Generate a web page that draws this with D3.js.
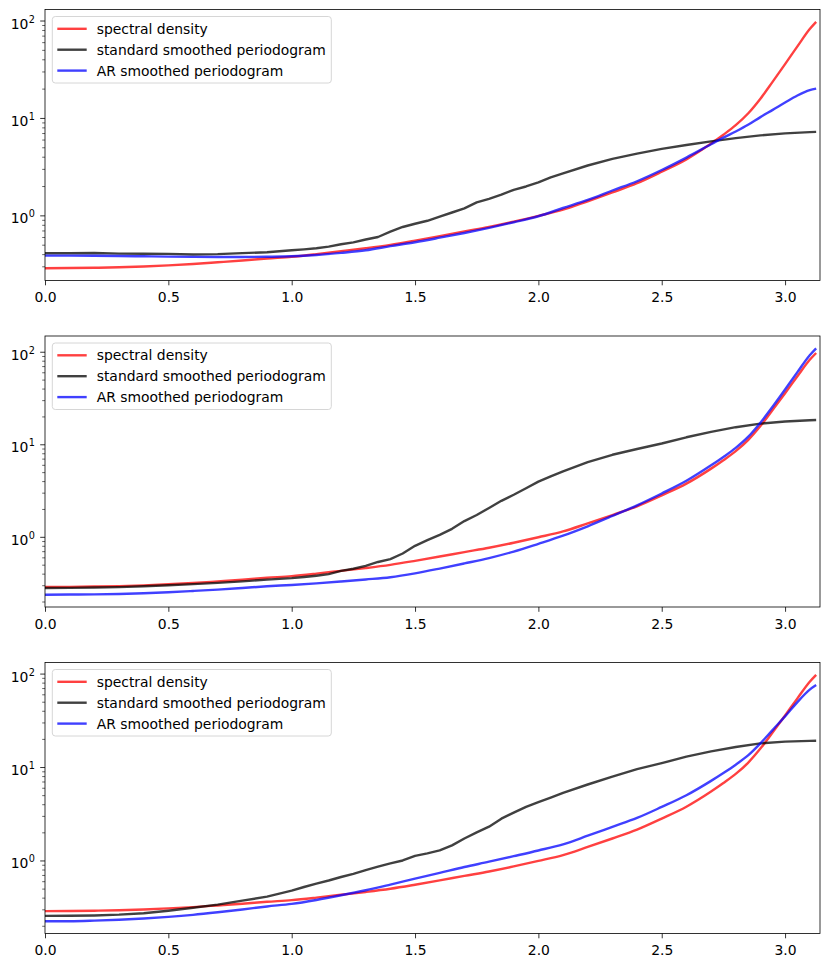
<!DOCTYPE html>
<html><head><meta charset="utf-8">
<script src="https://cdn.jsdelivr.net/npm/d3@7"></script>
<style>body{margin:0;background:#fff} svg{display:block}</style>
</head><body>
<svg id="chart" width="830" height="967"></svg>
<script>
// ---------- data ----------
const freqSmooth = [0,0.1,0.2,0.3,0.4,0.5,0.6,0.7,0.8,0.9,1.0,1.1,1.2,1.3,1.4,1.5,1.6,1.7,1.8,1.9,2.0,2.1,2.2,2.3,2.4,2.5,2.6,2.7,2.75,2.8,2.85,2.9,2.95,3.0,3.05,3.1,3.126];
const freqPgram = [0,0.1,0.2,0.3,0.4,0.5,0.6,0.7,0.8,0.9,1.0,1.05,1.1,1.15,1.2,1.25,1.3,1.35,1.4,1.45,1.5,1.55,1.6,1.65,1.7,1.75,1.8,1.85,1.9,1.95,2.0,2.05,2.1,2.2,2.3,2.4,2.5,2.6,2.7,2.8,2.9,3.0,3.1,3.126];

const spectralDensity = [0.287,0.288,0.290,0.293,0.299,0.307,0.317,0.330,0.344,0.361,0.376,0.400,0.429,0.460,0.498,0.550,0.612,0.684,0.762,0.863,0.989,1.143,1.396,1.718,2.138,2.805,3.758,5.457,6.73,8.433,11.1,15.74,23.6,35.65,54.3,81.8,97.0];

const arPgram1 = [0.386,0.386,0.385,0.383,0.380,0.377,0.375,0.374,0.374,0.376,0.380,0.392,0.412,0.438,0.483,0.53,0.59,0.66,0.745,0.85,0.98,1.19,1.44,1.80,2.24,2.92,3.92,5.37,6.28,7.26,8.5,10.2,12.1,14.4,17.0,19.3,20.0];
const arPgram2 = [0.237,0.238,0.239,0.2415,0.246,0.252,0.260,0.269,0.280,0.292,0.302,0.314,0.329,0.346,0.366,0.403,0.454,0.516,0.589,0.693,0.841,1.03,1.30,1.68,2.19,2.94,4.03,5.92,7.29,9.14,12.0,17.1,25.6,39.1,60.3,91.8,108.9];
const arPgram3 = [0.224,0.224,0.227,0.232,0.239,0.249,0.262,0.279,0.299,0.322,0.343,0.378,0.424,0.480,0.552,0.638,0.736,0.851,0.970,1.112,1.279,1.489,1.84,2.29,2.85,3.74,4.99,7.11,8.63,10.6,13.3,17.9,25.0,34.8,49.5,67.3,75.3];

const stdPgram1 = [0.408,0.408,0.411,0.405,0.403,0.402,0.396,0.400,0.410,0.418,0.438,0.448,0.460,0.478,0.505,0.528,0.565,0.60,0.68,0.76,0.82,0.88,0.97,1.07,1.18,1.36,1.48,1.63,1.83,1.98,2.18,2.45,2.70,3.25,3.8,4.3,4.82,5.27,5.75,6.2,6.62,6.95,7.15,7.19];
const stdPgram2 = [0.280,0.281,0.283,0.286,0.292,0.300,0.308,0.318,0.330,0.345,0.358,0.368,0.380,0.395,0.428,0.452,0.485,0.535,0.575,0.66,0.80,0.92,1.05,1.22,1.48,1.72,2.05,2.45,2.85,3.35,3.95,4.5,5.1,6.4,7.7,8.9,10.2,11.9,13.6,15.3,16.7,17.6,18.2,18.3];
const stdPgram3 = [0.255,0.256,0.258,0.263,0.272,0.290,0.312,0.337,0.372,0.410,0.475,0.52,0.565,0.61,0.665,0.72,0.79,0.86,0.93,1.0,1.12,1.19,1.28,1.45,1.72,2.0,2.3,2.8,3.25,3.75,4.2,4.7,5.3,6.5,7.9,9.5,11.0,12.9,14.7,16.4,17.9,18.7,19.05,19.1];

const xTicks = [0,0.5,1.0,1.5,2.0,2.5,3.0];
const seriesNames = ["spectral density","standard smoothed periodogram","AR smoothed periodogram"];
const seriesColors = ["rgba(255,0,0,0.75)","rgba(0,0,0,0.75)","rgba(0,0,255,0.75)"];

// ---------- layout ----------
const svg = d3.select("#chart");
const left = 45, right = 820, h = 271;
const tops = [9.5, 336, 662.5];
const font = "DejaVu Sans, sans-serif";
const fs = 13.9;

const panels = [
  {std: stdPgram1, ar: arPgram1},
  {std: stdPgram2, ar: arPgram2},
  {std: stdPgram3, ar: arPgram3}
];

const x = d3.scaleLinear().domain([0, Math.PI]).range([left, right]);

panels.forEach((p, i) => {
  const top = tops[i], bottom = top + h;
  const all = spectralDensity.concat(p.std, p.ar);
  const lmin = Math.log10(d3.min(all)), lmax = Math.log10(d3.max(all));
  const pad = (lmax - lmin) * 0.05;
  const y = d3.scaleLog().domain([Math.pow(10, lmin - pad), Math.pow(10, lmax + pad)]).range([bottom, top]);
  const g = svg.append("g");

  // lines
  const clipId = "clip" + i;
  svg.append("clipPath").attr("id", clipId).append("rect")
    .attr("x", left).attr("y", top).attr("width", right - left).attr("height", h);
  const lg = g.append("g").attr("clip-path", `url(#${clipId})`);
  const smooth = d3.line().x(d => x(d[0])).y(d => y(d[1])).curve(d3.curveMonotoneX);
  const jag = d3.line().x(d => x(d[0])).y(d => y(d[1]));
  lg.append("path").datum(d3.zip(freqSmooth, spectralDensity)).attr("d", smooth)
    .attr("fill", "none").attr("stroke", seriesColors[0]).attr("stroke-width", 2.4);
  lg.append("path").datum(d3.zip(freqPgram, p.std)).attr("d", jag)
    .attr("fill", "none").attr("stroke", seriesColors[1]).attr("stroke-width", 2.4).attr("stroke-linejoin", "round");
  lg.append("path").datum(d3.zip(freqSmooth, p.ar)).attr("d", smooth)
    .attr("fill", "none").attr("stroke", seriesColors[2]).attr("stroke-width", 2.4);

  // x axis
  const xa = g.append("g").attr("transform", `translate(0,${bottom})`)
    .call(d3.axisBottom(x).tickValues(xTicks).tickFormat(d3.format(".1f")).tickSize(4.8).tickPadding(7).tickSizeOuter(0));
  xa.select(".domain").remove();
  xa.selectAll("line").attr("stroke", "#000").attr("stroke-width", 0.8);
  xa.selectAll("text").attr("font-family", font).attr("font-size", fs).attr("fill", "#000");

  // y axis: majors and minors
  const [d0, d1] = y.domain();
  const majors = [], minors = [];
  for (let k = Math.floor(Math.log10(d0)); k <= Math.ceil(Math.log10(d1)); k++) {
    const v = Math.pow(10, k);
    if (v >= d0 && v <= d1) majors.push(k);
    for (let m = 2; m <= 9; m++) {
      const mv = m * v;
      if (mv >= d0 && mv <= d1) minors.push(mv);
    }
  }
  const ya = g.append("g").attr("transform", `translate(${left},0)`)
    .call(d3.axisLeft(y).tickValues(minors).tickSize(2.8).tickFormat(""));
  ya.select(".domain").remove();
  ya.selectAll("line").attr("stroke", "#000").attr("stroke-width", 0.6);
  const yb = g.append("g").attr("transform", `translate(${left},0)`)
    .call(d3.axisLeft(y).tickValues(majors.map(k => Math.pow(10, k))).tickSize(4.8).tickFormat(""));
  yb.select(".domain").remove();
  yb.selectAll("line").attr("stroke", "#000").attr("stroke-width", 0.8);
  majors.forEach(k => {
    const t = g.append("text").attr("x", left - 10).attr("y", y(Math.pow(10, k)) + 8)
      .attr("text-anchor", "end").attr("font-family", font).attr("font-size", fs).attr("fill", "#000");
    t.append("tspan").text("10");
    t.append("tspan").attr("dy", -6).attr("dx", 0.5).attr("font-size", 9.7).text(String(k));
  });

  // frame
  g.append("rect").attr("x", left).attr("y", top).attr("width", right - left).attr("height", h)
    .attr("fill", "none").attr("stroke", "#000").attr("stroke-width", 0.8);

  // legend
  const lgd = g.append("g").attr("transform", `translate(${left + 7.3},${top + 7})`);
  lgd.append("rect").attr("x", 0).attr("y", 0).attr("width", 279).attr("height", 66.5)
    .attr("rx", 3).attr("fill", "rgba(255,255,255,0.8)").attr("stroke", "#d6d6d6").attr("stroke-width", 1);
  seriesNames.forEach((name, j) => {
    const yy = 12.3 + j * 20.9;
    lgd.append("line").attr("x1", 5).attr("x2", 34.4).attr("y1", yy).attr("y2", yy)
      .attr("stroke", seriesColors[j]).attr("stroke-width", 2.4);
    lgd.append("text").attr("x", 44.4).attr("y", yy).attr("dy", "0.36em")
      .attr("font-family", font).attr("font-size", fs).attr("fill", "#000").text(name);
  });
});
</script>
</body></html>
